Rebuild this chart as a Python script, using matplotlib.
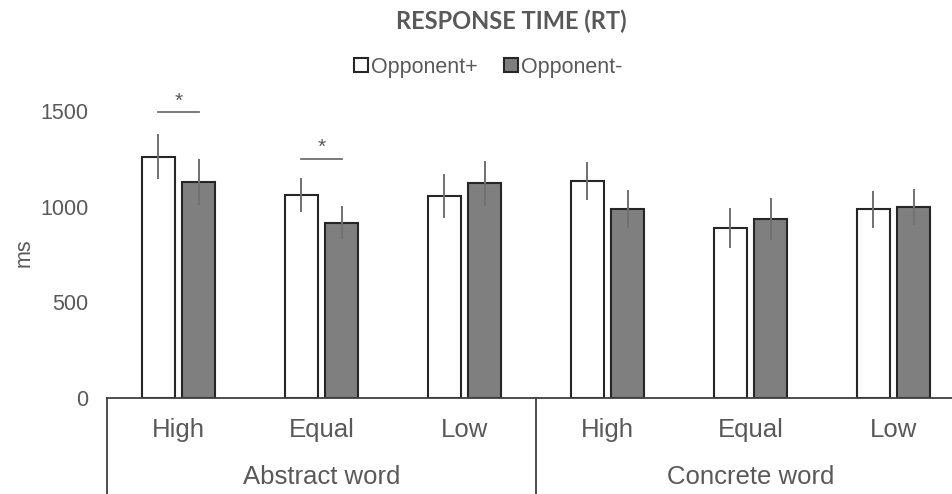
import matplotlib.pyplot as plt
import matplotlib.transforms as mtransforms
from matplotlib.patches import Patch
import numpy as np

# values (ms)
levels = ["High", "Equal", "Low", "High", "Equal", "Low"]
groups = ["Abstract word", "Concrete word"]
opp_plus = [1261, 1061, 1056, 1134, 889, 986]
opp_minus = [1131, 916, 1122, 986, 936, 998]
err_plus = [118, 88, 114, 98, 106, 98]
err_minus = [120, 87, 116, 100, 108, 95]
# significance markers: (category index, line height)
sig_idx = [0, 1]
sig_y = [1495, 1250]

text_col = "#595959"
edge_col = "#262626"
err_col = "#707070"
gray_fill = "#7f7f7f"

fig = plt.figure(figsize=(9.52, 4.94), dpi=100)
W, H = 952, 494
ax = fig.add_axes([107 / W, 96 / H, 858 / W, 287 / H])

x = np.arange(len(levels))
off = 0.14
bw = 0.23
ax.bar(x - off, opp_plus, bw, color="white", edgecolor=edge_col, linewidth=1.5, zorder=2)
ax.bar(x + off, opp_minus, bw, color=gray_fill, edgecolor=edge_col, linewidth=1.5, zorder=2)
ax.errorbar(x - off, opp_plus, yerr=err_plus, fmt="none", ecolor=err_col, elinewidth=1.4, capsize=0, zorder=3)
ax.errorbar(x + off, opp_minus, yerr=err_minus, fmt="none", ecolor=err_col, elinewidth=1.4, capsize=0, zorder=3)

for i, yv in zip(sig_idx, sig_y):
    ax.plot([i - off, i + off], [yv, yv], color=err_col, linewidth=1.3, clip_on=False)
    ax.text(i, yv + 8, "*", ha="center", va="bottom", fontsize=15, color=text_col,
            family="Liberation Sans")

ax.set_xlim(-0.5, 5.5)
ax.set_ylim(0, 1500)
ax.set_yticks([0, 500, 1000, 1500])
ax.tick_params(axis="y", length=0, pad=13.5, labelsize=15.5, labelcolor=text_col)
ax.set_xticks([])
for lab in ax.get_yticklabels():
    lab.set_family("Liberation Sans")
for s in ["left", "right", "top"]:
    ax.spines[s].set_visible(False)
ax.spines["bottom"].set_color("#404040")
ax.spines["bottom"].set_linewidth(1.3)

# category box below the axis
trans = mtransforms.blended_transform_factory(ax.transData, ax.transAxes)
for xv in [-0.5, 2.5]:
    ax.plot([xv, xv], [0, -0.4], color="#404040", linewidth=1.3, transform=trans, clip_on=False)
for i, lab in enumerate(levels):
    ax.text(i, -0.111, lab, transform=trans, ha="center", va="center",
            fontsize=18.5, color=text_col, family="Liberation Sans")
for j, g in enumerate(groups):
    ax.text(1 + 3 * j, -0.275, g, transform=trans, ha="center", va="center",
            fontsize=18.5, color=text_col, family="Liberation Sans")

fig.text(24 / W, 1 - 253 / H, "ms", rotation=90, ha="center", va="center",
         fontsize=15.5, color=text_col, family="Liberation Sans")
fig.text(511 / W, 1 - 21.5 / H, "RESPONSE TIME (RT)", ha="center", va="center",
         fontsize=17, fontweight="bold", color=text_col, family="Lato")

handles = [Patch(facecolor="white", edgecolor=edge_col, linewidth=1.5, label="Opponent+"),
           Patch(facecolor=gray_fill, edgecolor=edge_col, linewidth=1.5, label="Opponent-")]
leg = fig.legend(handles=handles, loc="center", bbox_to_anchor=(488 / W, 1 - 67 / H), ncol=2,
                 frameon=False, handlelength=0.65, handleheight=0.65, handletextpad=0.15,
                 columnspacing=1.2, prop={"family": "Liberation Sans", "size": 15.5})
for t in leg.get_texts():
    t.set_color(text_col)

fig.savefig("out.png", dpi=100)
